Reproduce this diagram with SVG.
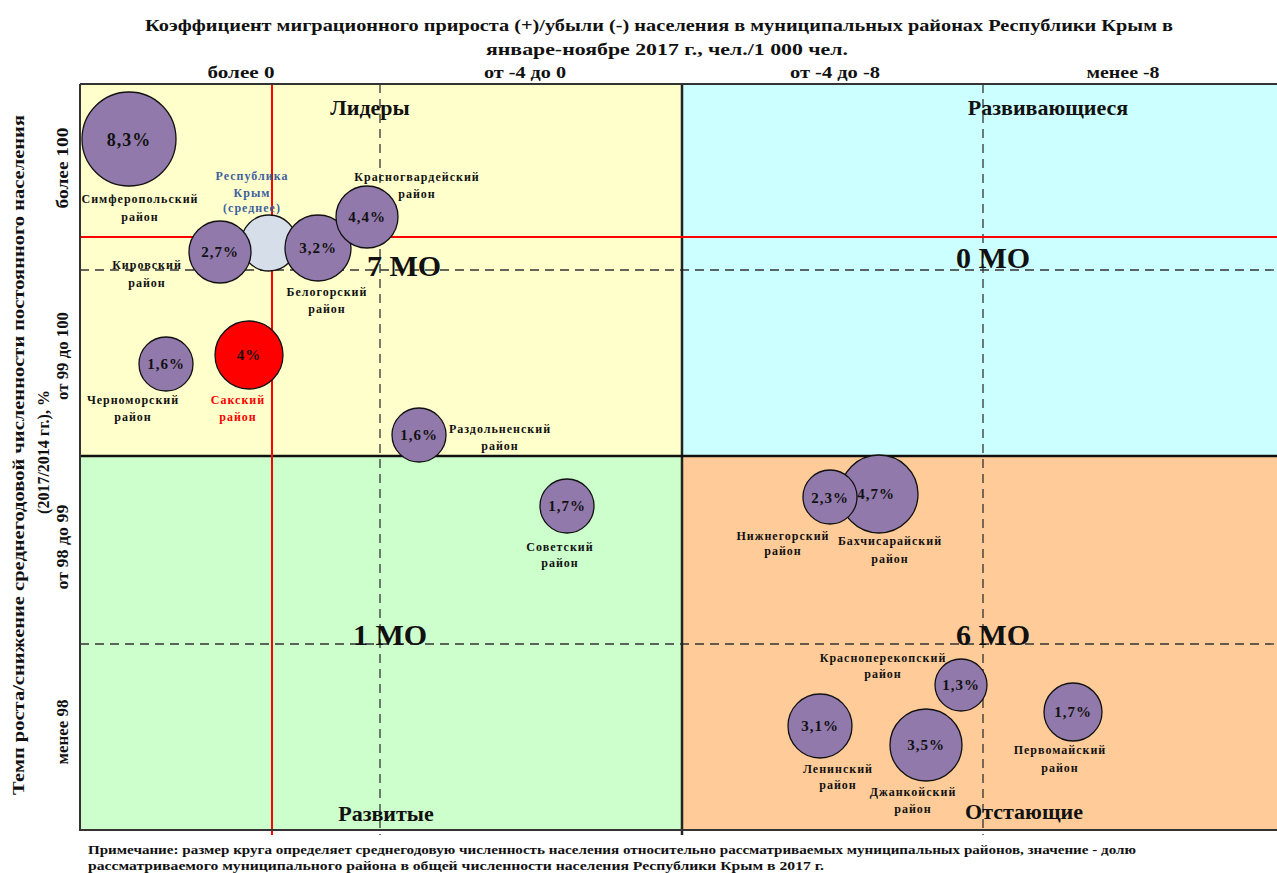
<svg xmlns="http://www.w3.org/2000/svg" width="1277" height="873" viewBox="0 0 1277 873">
<style>
text{font-family:"Liberation Serif","Times New Roman",serif;font-weight:bold;fill:#111}
.ttl{font-size:17px}
.hdr{font-size:16px;text-anchor:middle}
.q{font-size:22px;text-anchor:middle}
.mo{font-size:30px;text-anchor:middle}
.lbl{font-size:12px;letter-spacing:1px;text-anchor:middle}
.pct{font-size:15px;letter-spacing:1px;text-anchor:middle}
.bub{fill:#9179AB;stroke:#111;stroke-width:1.3}
.dash{stroke:#333;stroke-width:1.3;stroke-dasharray:9 6;fill:none}
.red{stroke:#FF0000;stroke-width:2;fill:none}
.note{font-size:11.5px}
</style>
<rect width="1277" height="873" fill="#fff"/>
<g id="quadrants">
<rect x="80" y="84" width="602" height="372" fill="#FFFFCC"/>
<rect x="682" y="84" width="595" height="372" fill="#CCFFFF"/>
<rect x="80" y="456" width="602" height="374" fill="#CCFFCC"/>
<rect x="682" y="456" width="595" height="374" fill="#FFCC99"/>
</g>
<g id="grid">
<line class="dash" x1="380" y1="84" x2="380" y2="835"/>
<line class="dash" x1="983" y1="84" x2="983" y2="835"/>
<line class="dash" x1="80" y1="270" x2="1277" y2="270"/>
<line class="dash" x1="80" y1="644" x2="1277" y2="644"/>
<line x1="682" y1="84" x2="682" y2="835" stroke="#222" stroke-width="2.5"/>
<line x1="80" y1="456" x2="1277" y2="456" stroke="#111" stroke-width="2.5"/>
<line class="red" x1="272" y1="84" x2="272" y2="835"/>
<line class="red" x1="80" y1="237" x2="1277" y2="237"/>
<path d="M80 84H1277M80 84V830H1277" stroke="#333" stroke-width="2" fill="none"/>
</g>
<g id="title">
<text class="ttl" x="145" y="31" textLength="1028" lengthAdjust="spacingAndGlyphs">Коэффициент миграционного прироста (+)/убыли (-) населения в муниципальных районах Республики Крым в</text>
<text class="ttl" x="486" y="55" textLength="362" lengthAdjust="spacingAndGlyphs">январе-ноябре 2017 г., чел./1 000 чел.</text>
</g>
<g id="col-headers">
<text class="hdr" x="241" y="78" textLength="67" lengthAdjust="spacingAndGlyphs">более 0</text>
<text class="hdr" x="525" y="78" textLength="82" lengthAdjust="spacingAndGlyphs">от -4 до 0</text>
<text class="hdr" x="835" y="78" textLength="90" lengthAdjust="spacingAndGlyphs">от -4 до -8</text>
<text class="hdr" x="1123" y="78" textLength="73" lengthAdjust="spacingAndGlyphs">менее -8</text>
</g>
<g id="row-headers">
<text class="hdr" transform="translate(68,168) rotate(-90)" textLength="81" lengthAdjust="spacingAndGlyphs">более 100</text>
<text class="hdr" transform="translate(68,356) rotate(-90)" textLength="88" lengthAdjust="spacingAndGlyphs">от 99 до 100</text>
<text class="hdr" transform="translate(68,547) rotate(-90)" textLength="85" lengthAdjust="spacingAndGlyphs">от 98 до 99</text>
<text class="hdr" transform="translate(68,732) rotate(-90)" textLength="65" lengthAdjust="spacingAndGlyphs">менее 98</text>
</g>
<g id="axis-title">
<text transform="translate(24,455) rotate(-90)" style="font-size:16px;text-anchor:middle" textLength="680" lengthAdjust="spacingAndGlyphs">Темп роста/снижение среднегодовой численности постоянного населения</text>
<text transform="translate(49,452) rotate(-90)" style="font-size:16px;text-anchor:middle">(2017/2014 гг.), %</text>
</g>
<g id="quadrant-labels">
<text class="q" x="370" y="115">Лидеры</text>
<text class="q" x="1048" y="115">Развивающиеся</text>
<text class="q" x="386" y="821">Развитые</text>
<text class="q" x="1024" y="819">Отстающие</text>
<text class="mo" x="404" y="276">7 МО</text>
<text class="mo" x="993" y="268">0 МО</text>
<text class="mo" x="390" y="645">1 МО</text>
<text class="mo" x="993" y="645">6 МО</text>
</g>
<g id="simferopol">
<circle class="bub" cx="129" cy="139" r="47"/>
<text class="pct" x="129" y="146" style="font-size:18px">8,3%</text>
<text class="lbl" x="140" y="203">Симферопольский</text>
<text class="lbl" x="140" y="221">район</text>
</g>
<g id="republic">
<circle cx="269" cy="243" r="28" fill="#D6DEEA" stroke="#111" stroke-width="1.3"/>
<text class="lbl" x="252" y="180" style="fill:#3F5F9F">Республика</text>
<text class="lbl" x="252" y="197" style="fill:#3F5F9F">Крым</text>
<text class="lbl" x="252" y="212" style="fill:#3F5F9F">(среднее)</text>
</g>
<g id="kirovsky">
<circle class="bub" cx="220" cy="252" r="31"/>
<text class="pct" x="220" y="257">2,7%</text>
<text class="lbl" x="147" y="269">Кировский</text>
<text class="lbl" x="147" y="287">район</text>
</g>
<g id="belogorsky">
<circle class="bub" cx="318" cy="248" r="33"/>
<text class="pct" x="318" y="253">3,2%</text>
<text class="lbl" x="327" y="296">Белогорский</text>
<text class="lbl" x="327" y="313">район</text>
</g>
<g id="krasnogvardeysky">
<circle class="bub" cx="367" cy="217" r="31"/>
<text class="pct" x="367" y="222">4,4%</text>
<text class="lbl" x="417" y="181">Красногвардейский</text>
<text class="lbl" x="417" y="198">район</text>
</g>
<g id="chernomorsky">
<circle class="bub" cx="166" cy="364" r="27"/>
<text class="pct" x="166" y="369">1,6%</text>
<text class="lbl" x="133" y="404">Черноморский</text>
<text class="lbl" x="133" y="421">район</text>
</g>
<g id="saksky">
<circle cx="249" cy="355" r="34" fill="#FF0000" stroke="#111" stroke-width="1.3"/>
<text class="pct" x="249" y="360">4%</text>
<text class="lbl" x="238" y="404" style="fill:#FF0000">Сакский</text>
<text class="lbl" x="238" y="421" style="fill:#FF0000">район</text>
</g>
<g id="razdolnensky">
<circle class="bub" cx="419" cy="435" r="27"/>
<text class="pct" x="419" y="440">1,6%</text>
<text class="lbl" x="500" y="433">Раздольненский</text>
<text class="lbl" x="500" y="450">район</text>
</g>
<g id="sovetsky">
<circle class="bub" cx="567" cy="506" r="27"/>
<text class="pct" x="567" y="511">1,7%</text>
<text class="lbl" x="560" y="551">Советский</text>
<text class="lbl" x="560" y="567">район</text>
</g>
<g id="bakhchisaraysky">
<circle class="bub" cx="879" cy="494" r="39"/>
<text class="pct" x="876" y="499">4,7%</text>
<text class="lbl" x="890" y="545">Бахчисарайский</text>
<text class="lbl" x="890" y="563">район</text>
</g>
<g id="nizhnegorsky">
<circle class="bub" cx="830" cy="497" r="27"/>
<text class="pct" x="830" y="503">2,3%</text>
<text class="lbl" x="783" y="540">Нижнегорский</text>
<text class="lbl" x="783" y="555">район</text>
</g>
<g id="krasnoperekopsky">
<circle class="bub" cx="961" cy="685" r="26"/>
<text class="pct" x="961" y="690">1,3%</text>
<text class="lbl" x="883" y="662">Красноперекопский</text>
<text class="lbl" x="883" y="678">район</text>
</g>
<g id="leninsky">
<circle class="bub" cx="820" cy="726" r="32"/>
<text class="pct" x="820" y="731">3,1%</text>
<text class="lbl" x="838" y="773">Ленинский</text>
<text class="lbl" x="838" y="789">район</text>
</g>
<g id="dzhankoysky">
<circle class="bub" cx="926" cy="745" r="36"/>
<text class="pct" x="926" y="750">3,5%</text>
<text class="lbl" x="913" y="796">Джанкойский</text>
<text class="lbl" x="913" y="813">район</text>
</g>
<g id="pervomaysky">
<circle class="bub" cx="1073" cy="712" r="29"/>
<text class="pct" x="1073" y="717">1,7%</text>
<text class="lbl" x="1060" y="754">Первомайский</text>
<text class="lbl" x="1060" y="772">район</text>
</g>
<g id="note">
<text class="note" x="88" y="854" textLength="1048" lengthAdjust="spacingAndGlyphs">Примечание: размер круга определяет среднегодовую численность населения относительно рассматриваемых муниципальных районов, значение - долю</text>
<text class="note" x="88" y="870" textLength="736" lengthAdjust="spacingAndGlyphs">рассматриваемого муниципального района в общей численности населения Республики Крым в 2017 г.</text>
</g>
</svg>
